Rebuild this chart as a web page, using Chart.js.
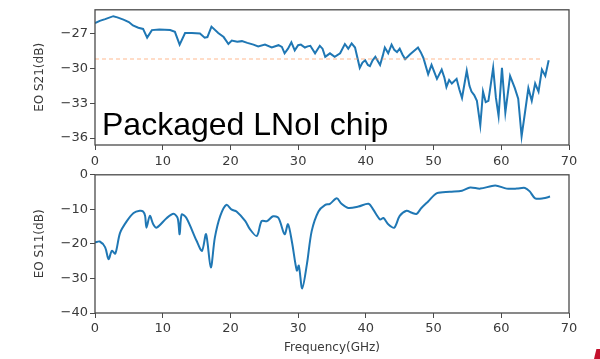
<!DOCTYPE html>
<html>
<head>
<meta charset="UTF-8">
<title>EO S21 / S11</title>
<script src="https://cdn.jsdelivr.net/npm/chart.js"></script>
<style>
  html, body { margin: 0; padding: 0; background: #fff; }
  body { width: 600px; height: 359px; position: relative; overflow: hidden; }
  .box { position: absolute; left: 0; width: 600px; }
  #top { top: 0; height: 165px; }
  #bottom { top: 165px; height: 194px; }
  .label {
    position: absolute; left: 102px; top: 108px;
    font-family: "Liberation Sans", Arial, sans-serif; font-size: 32px; line-height: 32px;
    color: #000; white-space: nowrap;
  }
  .mark {
    position: absolute; left: 594px; top: 349px; width: 6px; height: 10px;
    background: #c4102c; clip-path: polygon(40% 0, 100% 0, 100% 100%, 0 100%);
  }
</style>
</head>
<body>
<div class="box" id="top"><canvas id="s21Chart"></canvas></div>
<div class="box" id="bottom"><canvas id="s11Chart"></canvas></div>
<div class="label">Packaged LNoI chip</div>
<div class="mark"></div>

<script>
  // frequency axis (GHz)
  const xTicks = [0, 10, 20, 30, 40, 50, 60, 70];

  // EO S21 (dB)
  const s21Freq = [0, 0.7, 1.5, 2.7, 3.3, 4.2, 5.0, 5.6, 6.4, 7.1, 7.7, 8.4, 9.5, 11.1, 11.8, 12.5, 13.3, 14.3, 15.5, 16.2,
    16.6, 17.2, 18.2, 19.0, 19.7, 20.2, 21.0, 21.7, 22.5, 23.4, 24.1, 25.1, 26.1, 27.1, 27.6, 28.0, 28.5, 29.0, 29.5, 30.0,
    30.4, 31.0, 31.4, 31.8, 32.5, 33.2, 33.6, 34.0, 34.7, 35.4, 36.2, 36.9, 37.4, 37.9, 38.4, 39.1, 39.5, 39.9, 40.3, 40.6,
    41.0, 41.4, 42.1, 42.5, 42.8, 43.3, 43.8, 44.2, 44.6, 45.0, 45.4, 45.8, 46.5, 47.1, 47.7, 48.1, 48.5, 49.2, 49.7, 50.1,
    50.5, 51.2, 51.6, 51.9, 52.3, 52.7, 53.4, 53.8, 54.2, 54.9, 55.3, 55.6, 56.0, 56.4, 56.9, 57.1, 57.3, 57.7, 58.1, 58.8,
    59.2, 59.6, 60.1, 60.6, 61.0, 61.3, 62.0, 62.5, 63.0, 63.5, 64.0, 64.5, 65.0, 65.5, 66.0, 66.5, 67.0];
  const s21Db = [-26.1, -25.9, -25.75, -25.5, -25.6, -25.8, -26.0, -26.3, -26.5, -26.6, -27.35, -26.7, -26.65, -26.7, -26.85, -27.95, -26.95, -26.95, -27.0, -27.35,
    -27.3, -26.4, -26.95, -27.3, -27.9, -27.6, -27.7, -27.65, -27.8, -27.95, -28.1, -27.95, -28.2, -28.0, -28.15, -28.7, -28.3, -27.75, -28.45, -28.0,
    -27.95, -28.2, -28.1, -28.05, -28.7, -28.05, -28.3, -29.0, -28.7, -29.0, -28.7, -27.9, -28.3, -27.85, -28.2, -29.95, -29.5, -29.3, -29.7, -29.8,
    -29.3, -29.0, -29.7, -28.9, -28.2, -28.7, -27.95, -28.4, -28.6, -28.3, -28.8, -29.2, -28.8, -28.5, -28.2, -28.6, -29.1, -30.5, -29.7, -30.3,
    -30.9, -30.1, -30.8, -31.6, -31.0, -31.3, -30.9, -31.8, -32.55, -30.2, -31.5, -32.0, -32.3, -32.8, -34.9, -33.5, -32.0, -32.9, -32.8, -29.95,
    -32.5, -34.1, -29.95, -33.8, -32.0, -30.65, -31.7, -32.6, -35.85, -33.8, -31.7, -32.8, -31.3, -32.0, -30.1, -30.65, -29.3];
  const s21Ticks = [-27, -30, -33, -36];

  // dashed reference level on the S21 panel
  const refFreq = [0, 66];
  const refDb = [-29.2, -29.2];

  // EO S11 (dB)
  const s11Freq = [0, 0.7, 1.5, 2.0, 2.5, 3.0, 3.7, 4.7, 5.7, 6.6, 7.1, 7.4, 7.6, 8.1, 8.6, 9.1, 10.6, 11.6, 12.2, 12.5,
    12.8, 13.5, 15.0, 15.8, 16.4, 17.1, 17.7, 18.5, 19.4, 20.2, 20.9, 22.2, 22.9, 23.9, 24.6, 25.4, 26.3, 27.1, 28.0, 28.5,
    29.1, 29.8, 30.1, 30.6, 31.3, 32.0, 33.0, 34.0, 34.7, 35.7, 36.4, 37.4, 38.9, 40.4, 41.1, 42.1, 42.6, 43.3, 44.2, 45.0,
    46.0, 46.8, 47.5, 48.2, 49.2, 50.5, 52.4, 54.2, 55.4, 56.9, 59.1, 60.8, 62.3, 63.5, 64.2, 65.0, 66.2, 67.2];
  const s11Db = [-19.6, -19.3, -21.0, -24.4, -22.0, -22.8, -16.8, -13.4, -11.05, -10.4, -10.6, -11.9, -15.3, -11.9, -14.3, -15.3, -12.5, -11.3, -12.5, -17.2,
    -11.5, -12.5, -19.1, -22.0, -17.2, -26.8, -18.2, -11.9, -8.7, -10.1, -10.6, -13.4, -15.8, -17.7, -13.4, -13.4, -12.0, -12.5, -17.2, -14.3,
    -19.6, -27.7, -26.3, -32.9, -25.8, -16.3, -10.6, -8.7, -8.4, -6.8, -8.4, -9.6, -9.2, -8.4, -10.1, -12.95, -12.5, -14.3, -15.3, -11.9,
    -10.4, -11.0, -11.3, -9.6, -7.7, -5.3, -4.9, -4.6, -3.7, -4.0, -3.1, -4.0, -4.0, -3.8, -4.8, -6.8, -6.8, -6.3];
  const s11Ticks = [0, -10, -20, -30, -40];

  const pts = (xs, ys) => xs.map((x, i) => ({ x: x, y: ys[i] }));

  const tickFont = { family: 'DejaVu Sans', size: 13 };
  const textColor = '#3a3a3a';
  const axisColor = '#4a4a4a';

  // full box around the plot area, like matplotlib
  const frame = {
    id: 'frame',
    afterDraw(chart) {
      const a = chart.chartArea, ctx = chart.ctx;
      ctx.save();
      ctx.strokeStyle = axisColor;
      ctx.lineWidth = 1.3;
      ctx.strokeRect(a.left, a.top, a.right - a.left, a.bottom - a.top);
      ctx.restore();
    }
  };

  function makeChart(id, datasets, yMin, yMax, yTicks, yTitle, xAxisH, xTitle, padTop, labelPad) {
    return new Chart(document.getElementById(id), {
      type: 'line',
      data: { datasets: datasets },
      options: {
        responsive: true,
        maintainAspectRatio: false,
        animation: false,
        layout: { padding: { top: padTop, right: 31, left: 0, bottom: 0 } },
        plugins: { legend: { display: false }, tooltip: { enabled: false } },
        elements: { point: { radius: 0 } },
        scales: {
          x: {
            type: 'linear', min: 0, max: 70,
            afterBuildTicks: s => { s.ticks = xTicks.map(v => ({ value: v })); },
            afterFit: s => { s.height = xAxisH; },
            ticks: { color: textColor, font: tickFont, padding: labelPad, maxRotation: 0 },
            grid: { drawOnChartArea: false, drawTicks: true, tickLength: 5, color: axisColor },
            border: { display: false },
            title: { display: !!xTitle, text: xTitle, color: textColor,
                     font: { family: 'DejaVu Sans', size: 12 }, padding: { top: 0, bottom: 4 } }
          },
          y: {
            type: 'linear', min: yMin, max: yMax,
            afterBuildTicks: s => { s.ticks = yTicks.map(v => ({ value: v })); },
            afterFit: s => { s.width = 95; },
            ticks: { color: textColor, font: tickFont, padding: 2,
                     callback: v => String(v).replace('-', '\u2212') },
            grid: { drawOnChartArea: false, drawTicks: true, tickLength: 5, color: axisColor },
            border: { display: false },
            title: { display: true, text: yTitle, color: textColor,
                     font: { family: 'DejaVu Sans', size: 12 }, padding: { top: 33, bottom: 0 } }
          }
        }
      },
      plugins: [frame]
    });
  }

  makeChart('s21Chart', [
    { data: pts(refFreq, refDb), borderColor: 'rgba(255, 150, 90, 0.45)', borderWidth: 1.5,
      borderDash: [4, 3], tension: 0 },
    { data: pts(s21Freq, s21Db), borderColor: '#1f77b4', borderWidth: 2, tension: 0 }
  ], -36.6, -24.95, s21Ticks, 'EO S21(dB)', 20, '', 4, 4);

  makeChart('s11Chart', [
    { data: pts(s11Freq, s11Db), borderColor: '#1f77b4', borderWidth: 2, tension: 0.3 }
  ], -40, 0, s11Ticks, 'EO S11(dB)', 46, 'Frequency(GHz)', 8, 3);
</script>
</body>
</html>
